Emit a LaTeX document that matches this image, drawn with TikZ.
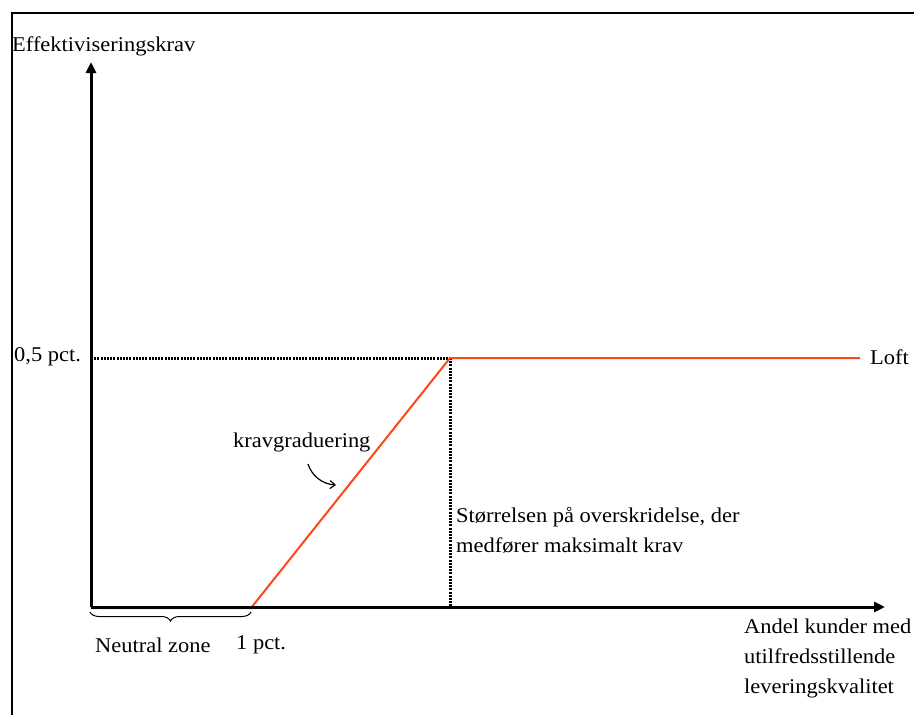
\documentclass[tikz,border=0pt]{standalone}
\usepackage{fontspec}
\setmainfont{Liberation Serif}[FakeStretch=1.07]
\usetikzlibrary{arrows.meta,decorations.pathreplacing}
\definecolor{redline}{RGB}{255,70,30}
\tikzset{
  lbl/.style={font=\fontsize{21}{30}\selectfont, inner sep=0pt, align=left},
  axis/.style={line width=3pt, -{Triangle[length=11pt,width=10pt]}},
  frame/.style={line width=2pt},
  redl/.style={draw=redline, line width=2pt},
  dots/.style={line width=3pt, dash pattern=on 2pt off 1.2pt},
}
\begin{document}
\begin{tikzpicture}[x=1pt,y=-1pt]
\useasboundingbox (0,0) rectangle (914,715);
% frame
\draw[frame] (12,715) -- (12,13) -- (914,13);
% coordinates
\coordinate (O) at (91,607);
\coordinate (ytop) at (91,62);
\coordinate (xend) at (885,607);
\coordinate (knee) at (251,607);
\coordinate (peak) at (450,358);
\coordinate (yhalf) at (91,358);
\coordinate (peakfoot) at (450,607);
\coordinate (loftend) at (860,358);
% dotted guides
\draw[dots] (yhalf) -- (peak);
\draw[dots] (peak) -- (peakfoot);
% red curve
\draw[redl] (91,608) -- (251,608) -- (peak) -- (loftend);
% axes
\draw[axis] (O) -- (ytop);
\draw[axis] (O) -- (xend);
% brace
\draw[line width=1pt, decorate, decoration={brace, mirror, amplitude=9pt}] (90,612) -- (251,612);
% labels
\node[lbl, anchor=west] (ylab) at (12,46) {Effektiviseringskrav};
\node[lbl, anchor=west] (half) at (14,357) {0,5 pct.};
\node[lbl, anchor=west] (loft) at (870,357) {Loft};
\node[lbl, anchor=west] (krav) at (233,442) {kravgraduering};
\node[lbl, anchor=north west] (stor) at (456,507) {Størrelsen på overskridelse, der\\medfører maksimalt krav};
\node[lbl, anchor=west] (neutral) at (95,645) {Neutral zone};
\node[lbl, anchor=west] (onepct) at (236,645) {1 pct.};
\node[lbl, anchor=north west] (xlab) at (744,619) {Andel kunder med\\utilfredsstillende\\leveringskvalitet};
% small curved arrow
\coordinate (ca) at (308,464);
\coordinate (cb) at (336,485);
\draw[line width=1.2pt, -{Straight Barb[length=5pt,width=8pt]}] (ca) .. controls (312,476) and (322,484) .. (cb);
\end{tikzpicture}
\end{document}
